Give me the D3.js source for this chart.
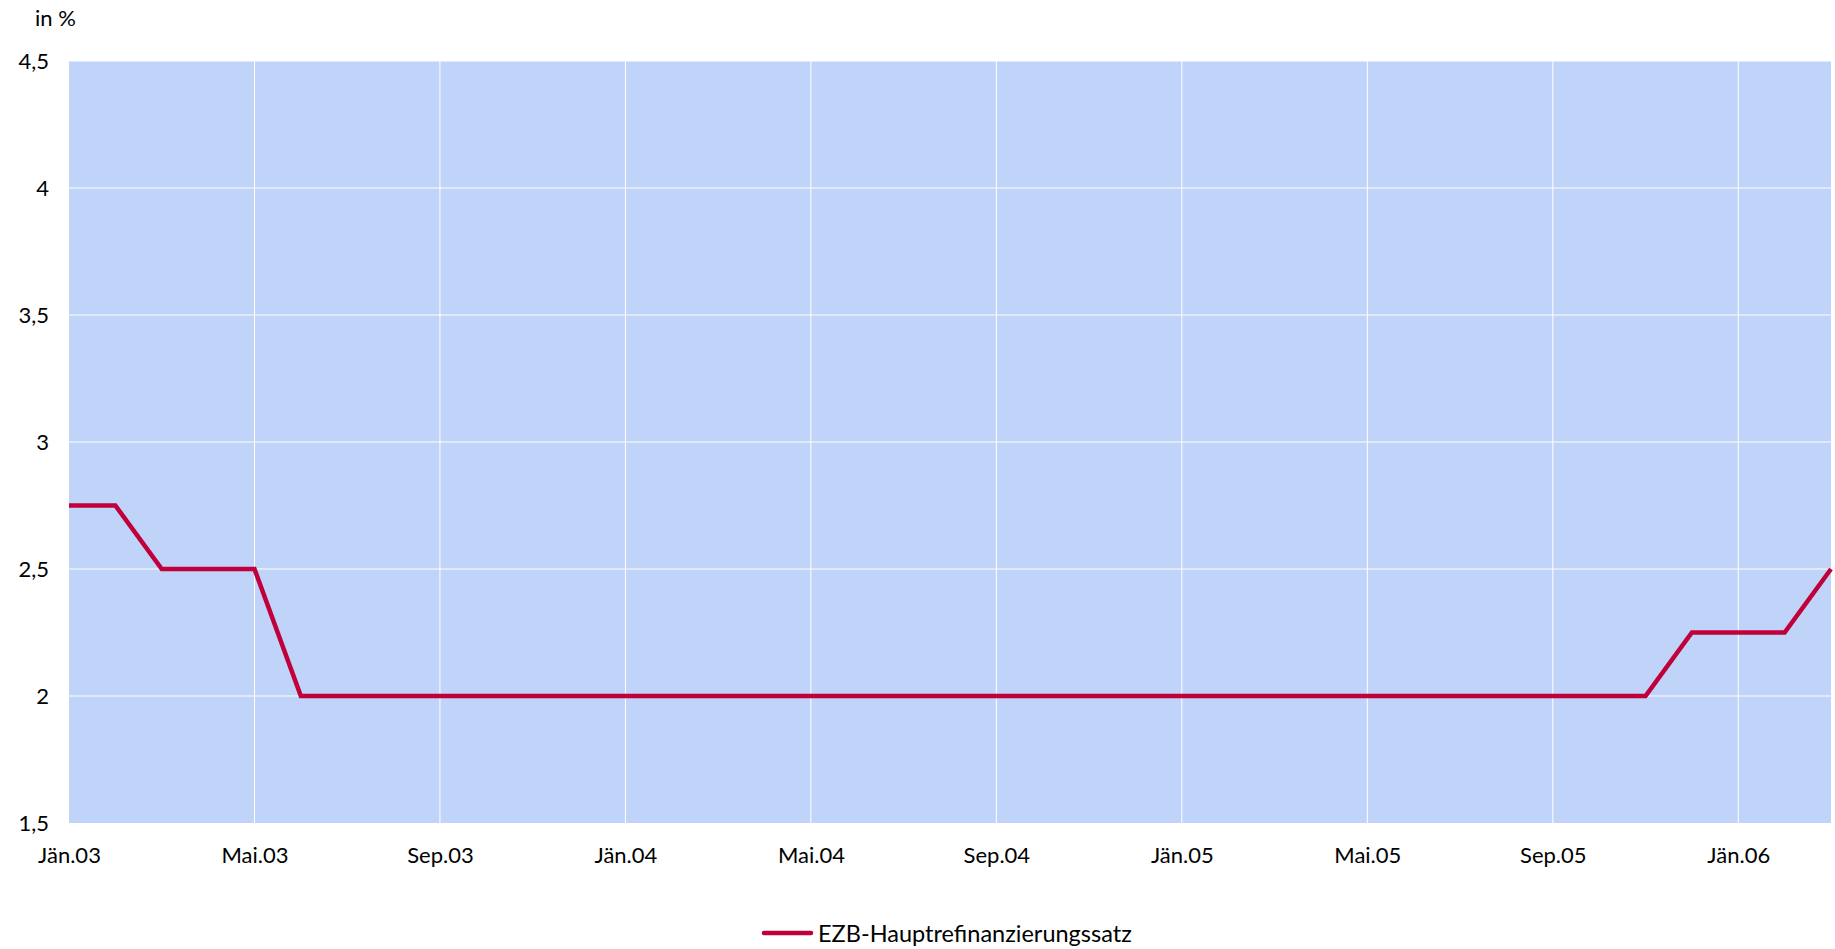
<!DOCTYPE html>
<html><head><meta charset="utf-8">
<script src="https://cdn.jsdelivr.net/npm/d3@7"></script>
<style>body{margin:0;background:#fff;}svg{display:block;font-family:Lato,"Open Sans",sans-serif;}</style>
</head><body>
<svg id="c" width="1835" height="949"></svg>
<script>
const months = ["Jän","Feb","Mär","Apr","Mai","Jun","Jul","Aug","Sep","Okt","Nov","Dez"];
const years = ["03","04","05","06"];
const categories = [];
for (const y of years) for (const m of months) categories.push(m + "." + y);
categories.length = 39; // Jän.03 – Mär.06
const rates = [
 2.75,2.75,2.5,2.5,2.5,2.0,2.0,2.0,2.0,2.0,2.0,2.0,
 2.0,2.0,2.0,2.0,2.0,2.0,2.0,2.0,2.0,2.0,2.0,2.0,
 2.0,2.0,2.0,2.0,2.0,2.0,2.0,2.0,2.0,2.0,2.0,2.25,
 2.25,2.25,2.5];
const yTicks = [1.5,2,2.5,3,3.5,4,4.5];
const xTickLabels = categories.filter((d,i)=>i%4===0);
const seriesName = "EZB-Hauptrefinanzierungssatz";

const svg = d3.select("#c");
const L=69, R=1831, T=61, B=823;
const x = d3.scalePoint().domain(categories).range([L,R]);
const y = d3.scaleLinear().domain([1.5,4.5]).range([B,T]);
const fmt = v => String(v).replace(".",",");

svg.append("rect").attr("x",L).attr("y",T).attr("width",R-L).attr("height",B-T).attr("fill","#c0d3f8");
// grid
svg.append("g").selectAll("line").data(yTicks.slice(1)).join("line")
  .attr("x1",L).attr("x2",R).attr("y1",d=>y(d)).attr("y2",d=>y(d))
  .attr("stroke","#fff").attr("stroke-width",1);
svg.append("g").selectAll("line").data(xTickLabels.slice(1)).join("line")
  .attr("x1",d=>x(d)).attr("x2",d=>x(d)).attr("y1",T).attr("y2",B)
  .attr("stroke","#fff").attr("stroke-width",1);

// axes
const yAxis = svg.append("g").attr("transform",`translate(${L},0)`)
  .call(d3.axisLeft(y).tickValues(yTicks).tickFormat(fmt).tickSize(0).tickPadding(20));
yAxis.select(".domain").remove();
yAxis.selectAll("text").attr("font-size",22).attr("fill","#000").attr("font-family","Lato");

const xAxis = svg.append("g").attr("transform",`translate(0,${B})`)
  .call(d3.axisBottom(x).tickValues(xTickLabels).tickSize(0).tickPadding(24));
xAxis.select(".domain").remove();
xAxis.selectAll("text").attr("font-size",22).attr("fill","#000").attr("font-family","Lato");

svg.append("text").attr("x",35).attr("y",26).attr("font-size",22).text("in %");

// line
svg.append("path").datum(rates)
  .attr("d", d3.line().x((d,i)=>x(categories[i])).y(d=>y(d)))
  .attr("fill","none").attr("stroke","#c0003a").attr("stroke-width",4.5).attr("stroke-linejoin","miter");

// legend
svg.append("line").attr("x1",764).attr("x2",811).attr("y1",933).attr("y2",933)
  .attr("stroke","#c0003a").attr("stroke-width",4.5).attr("stroke-linecap","round");
svg.append("text").attr("x",818).attr("y",942).attr("font-size",23.5).text(seriesName);
</script>
</body></html>
